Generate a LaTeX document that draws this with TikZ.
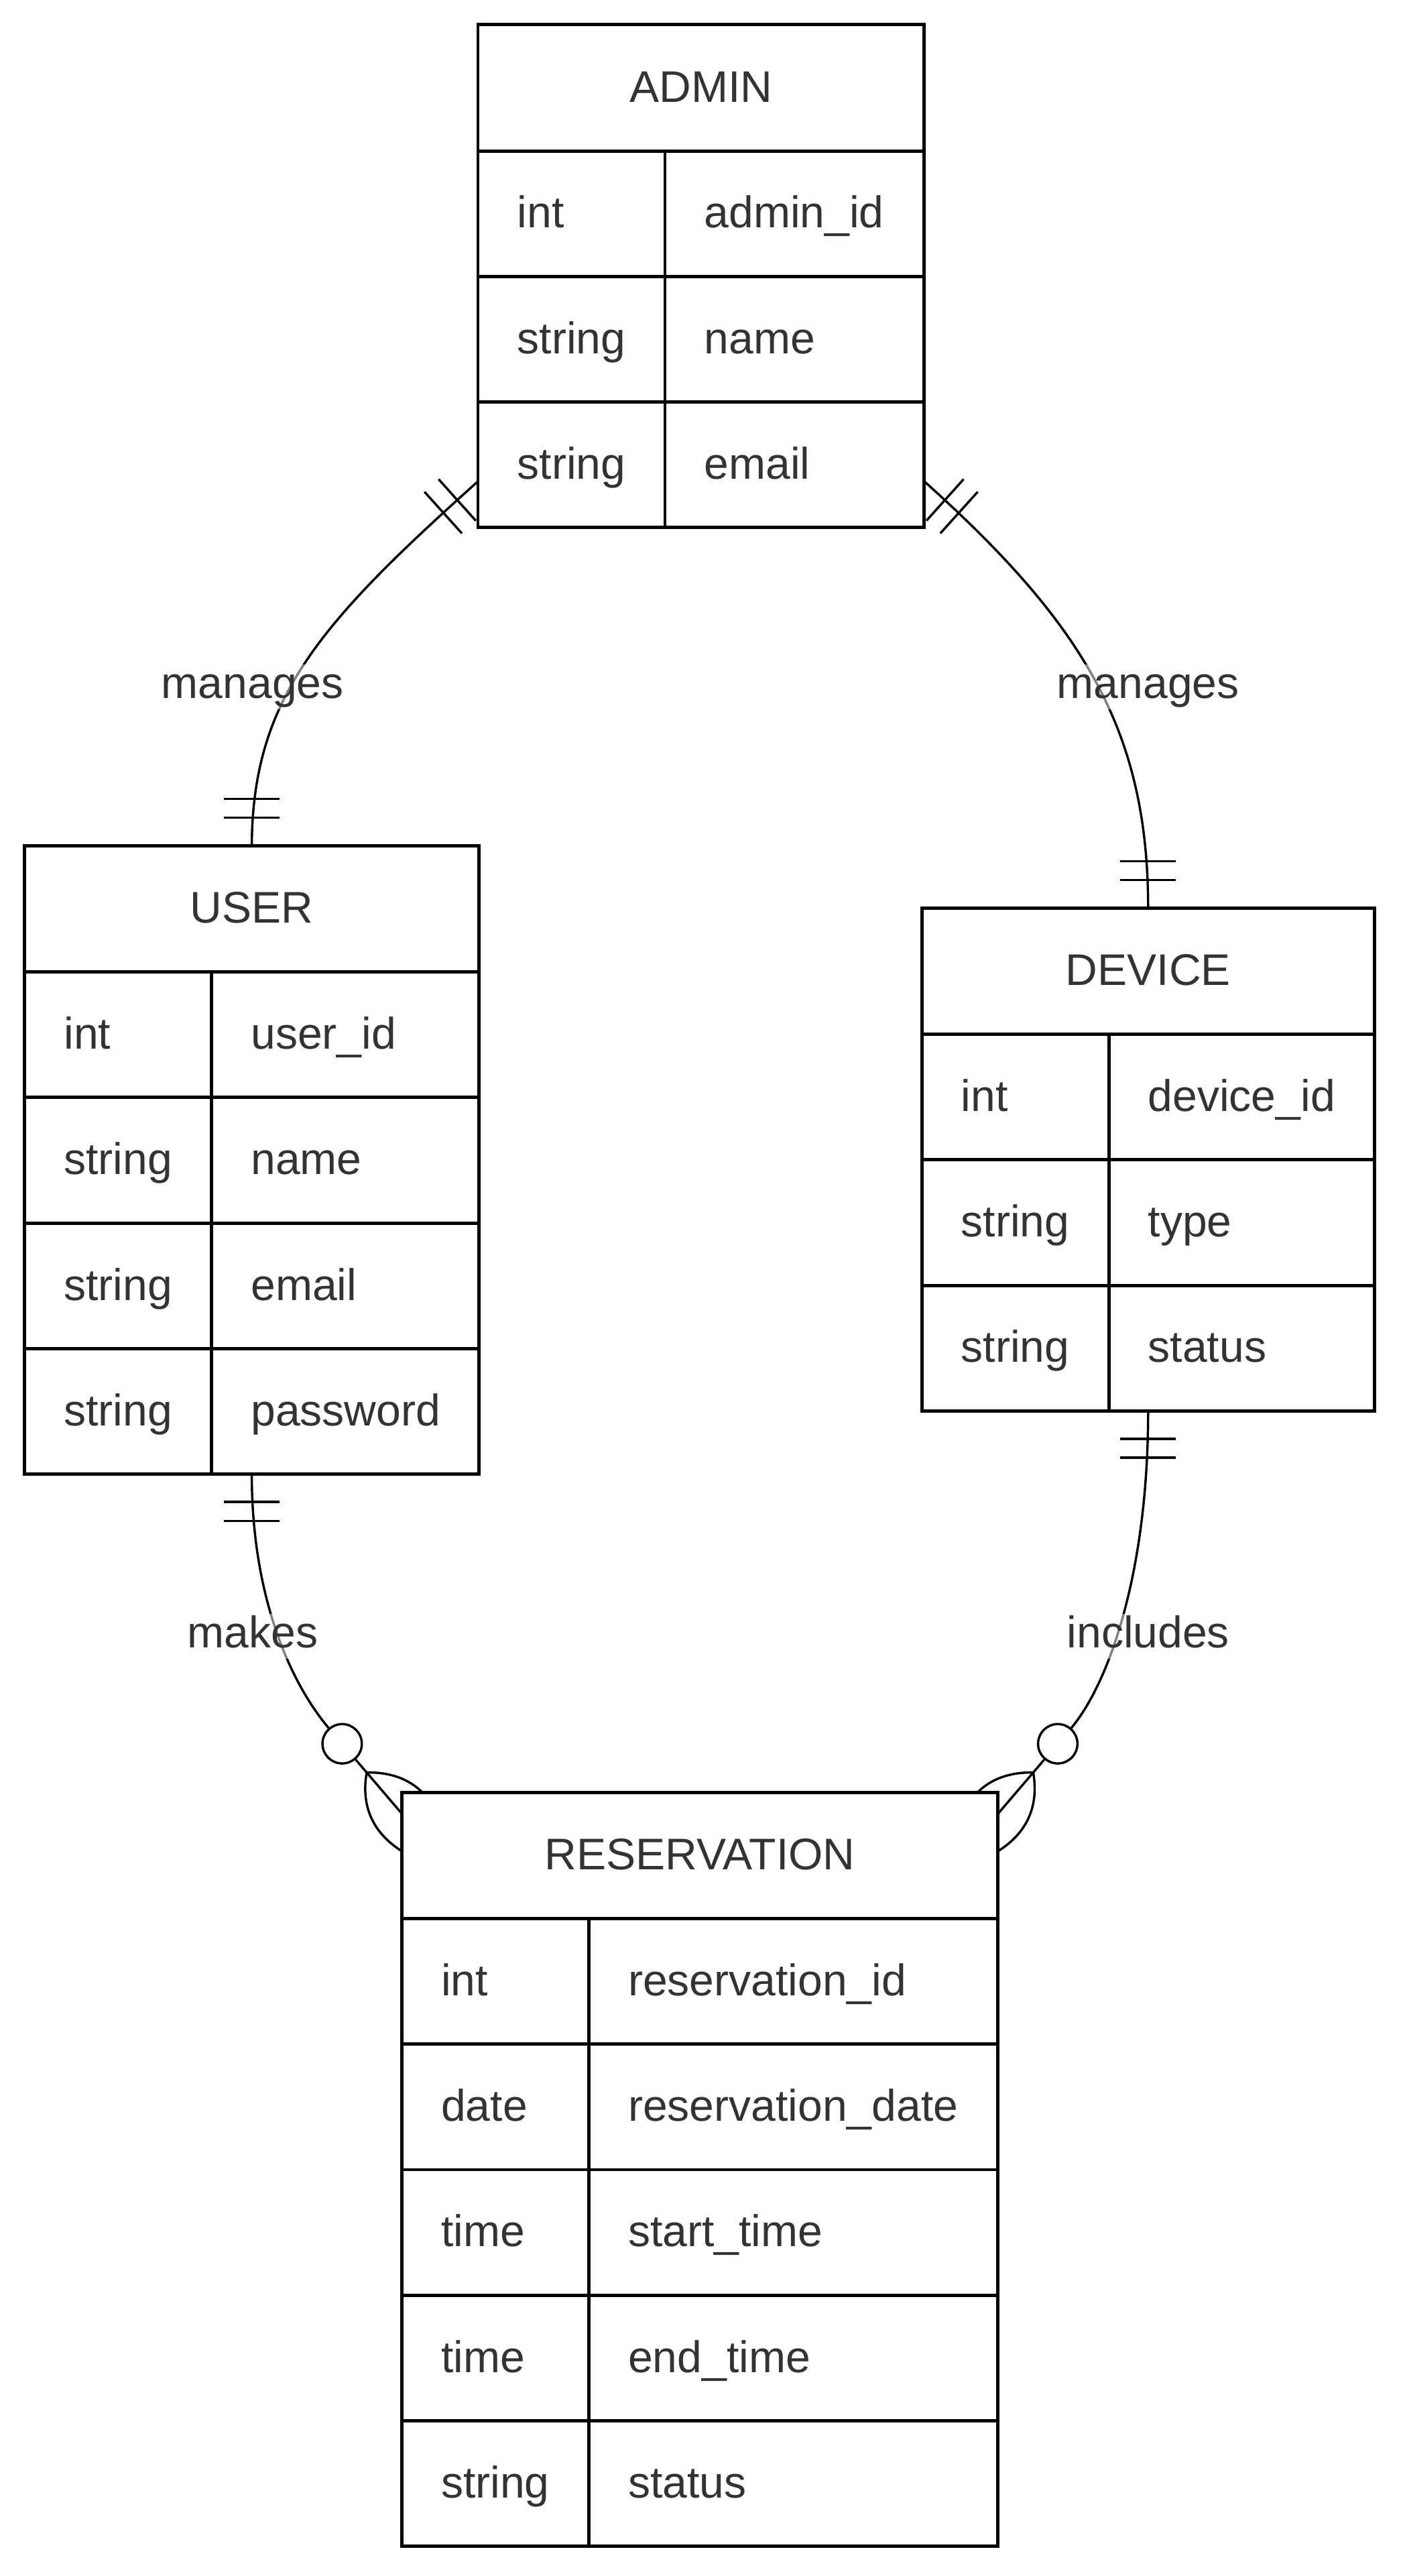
\documentclass[tikz,border=0pt]{standalone}
\usepackage{fontspec}
\setmainfont{Liberation Sans}
\usetikzlibrary{calc,fit,backgrounds}
\definecolor{ink}{HTML}{333333}

\tikzset{
  box/.style={draw, line width=2pt, fill=white, anchor=north west, outer sep=0pt,
    inner ysep=0pt, text height=17.4pt, text depth=0pt, text=ink},
  headbox/.style={box, minimum height=77pt, inner xsep=0pt},
  rowbox/.style={box, minimum height=76.5pt, inner xsep=24pt, align=left,
    execute at begin node={\hyphenpenalty=10000\relax}},
  whole/.style={inner sep=0pt, outer sep=0pt},
  rel/.style={line width=1.4pt, black},
  rellabel/.style={anchor=base, fill=white, fill opacity=0.5, text opacity=1, text=ink,
    inner sep=1pt, text height=19.6pt, text depth=5.6pt},
  zeroring/.style={circle, draw, fill=white, line width=1.4pt, minimum size=24pt, inner sep=0pt},
}

\begin{document}
\begin{tikzpicture}[x=1pt, y=-1pt, font=\fontsize{27}{32}\selectfont]
\useasboundingbox (0,0) rectangle (855,1570.2);

% ADMIN
\draw (291.4,15) node[headbox, minimum width=272.1pt] (adminhead) {ADMIN};
\draw (291.4,92) node[rowbox, text width=66pt] (admint1) {int};
\draw (405.4,92) node[rowbox, text width=110.1pt] (adminv1) {admin\_id};
\draw (291.4,168.5) node[rowbox, text width=66pt] (admint2) {string};
\draw (405.4,168.5) node[rowbox, text width=110.1pt] (adminv2) {name};
\draw (291.4,245) node[rowbox, text width=66pt] (admint3) {string};
\draw (405.4,245) node[rowbox, text width=110.1pt] (adminv3) {email};
\node[whole, fit=(adminhead)(adminv3)] (admin) {};

% USER
\draw (15,515.5) node[headbox, minimum width=277pt] (userhead) {USER};
\draw (15,592.5) node[rowbox, text width=66pt] (usert1) {int};
\draw (129,592.5) node[rowbox, text width=115pt] (userv1) {user\_id};
\draw (15,669) node[rowbox, text width=66pt] (usert2) {string};
\draw (129,669) node[rowbox, text width=115pt] (userv2) {name};
\draw (15,745.5) node[rowbox, text width=66pt] (usert3) {string};
\draw (129,745.5) node[rowbox, text width=115pt] (userv3) {email};
\draw (15,822) node[rowbox, text width=66pt] (usert4) {string};
\draw (129,822) node[rowbox, text width=115pt] (userv4) {password};
\node[whole, fit=(userhead)(userv4)] (user) {};

% DEVICE
\draw (562,553.5) node[headbox, minimum width=276pt] (devicehead) {DEVICE};
\draw (562,630.5) node[rowbox, text width=66pt] (devicet1) {int};
\draw (676,630.5) node[rowbox, text width=114pt] (devicev1) {device\_id};
\draw (562,707) node[rowbox, text width=66pt] (devicet2) {string};
\draw (676,707) node[rowbox, text width=114pt] (devicev2) {type};
\draw (562,783.5) node[rowbox, text width=66pt] (devicet3) {string};
\draw (676,783.5) node[rowbox, text width=114pt] (devicev3) {status};
\node[whole, fit=(devicehead)(devicev3)] (device) {};

% RESERVATION
\draw (245,1092.5) node[headbox, minimum width=363.5pt] (reshead) {RESERVATION};
\draw (245,1169.5) node[rowbox, text width=66pt] (rest1) {int};
\draw (359,1169.5) node[rowbox, text width=201.5pt] (resv1) {reservation\_id};
\draw (245,1246) node[rowbox, text width=66pt] (rest2) {date};
\draw (359,1246) node[rowbox, text width=201.5pt] (resv2) {reservation\_date};
\draw (245,1322.5) node[rowbox, text width=66pt] (rest3) {time};
\draw (359,1322.5) node[rowbox, text width=201.5pt] (resv3) {start\_time};
\draw (245,1399) node[rowbox, text width=66pt] (rest4) {time};
\draw (359,1399) node[rowbox, text width=201.5pt] (resv4) {end\_time};
\draw (245,1475.5) node[rowbox, text width=66pt] (rest5) {string};
\draw (359,1475.5) node[rowbox, text width=201.5pt] (resv5) {status};
\node[whole, fit=(reshead)(resv5)] (reservation) {};

% relationships, under the boxes
\begin{scope}[on background layer]
\fill[white] (0,0) rectangle (855,1570.2);

% admin manages user
\draw[rel] ($(admin.south west)+(0,-28.1)$) .. controls +(-96.4,86.6) and +(0.5,-90) .. (user.north);
\begin{scope}[shift={($(admin.south west)+(0,-28.1)$)}]
\draw[rel] (-24,-1.3) -- (-1.3,24);
\draw[rel] (-32.6,6.4) -- (-9.8,31.7);
\end{scope}
\begin{scope}[shift={(user.north)}]
\draw[rel] (-17,-17) -- (17,-17);
\draw[rel] (-17,-28.5) -- (17,-28.5);
\end{scope}

% admin manages device
\draw[rel] ($(admin.south east)+(0,-28.1)$) .. controls +(96.5,86.6) and +(0,-108.5) .. (device.north);
\begin{scope}[shift={($(admin.south east)+(0,-28.1)$)}, xscale=-1]
\draw[rel] (-24,-1.3) -- (-1.3,24);
\draw[rel] (-32.6,6.4) -- (-9.8,31.7);
\end{scope}
\begin{scope}[shift={(device.north)}]
\draw[rel] (-17,-17) -- (17,-17);
\draw[rel] (-17,-28.5) -- (17,-28.5);
\end{scope}

% user makes reservation
\coordinate (mkR) at ($(reservation.north west)+(0,13)$);
\coordinate (mkQ) at ($(mkR)+(-44.2,-51.7)$);
\draw[rel] (user.south) .. controls +(0,76.5) and +(-22.75,-26.6) .. (mkQ) -- (mkR);
\begin{scope}[shift={(user.south)}]
\draw[rel] (-17,17) -- (17,17);
\draw[rel] (-17,28.5) -- (17,28.5);
\end{scope}
\begin{scope}[shift={($(mkR)+(-21.45,-25.1)$)}]
\draw[rel] (0,0) .. controls (20.8,-0.3) and (35.3,8.4) .. (43.4,26.1);
\draw[rel] (0,0) .. controls (-3.5,20.5) and (3.6,36.5) .. (21.1,47.75);
\end{scope}
\node[zeroring] (mkring) at ($(mkR)+(-36.4,-42.6)$) {};

% device included in reservation
\coordinate (inR) at ($(reservation.north east)+(0,13)$);
\coordinate (inQ) at ($(inR)+(44.2,-51.7)$);
\draw[rel] (device.south) .. controls +(0,100) and +(22.75,-26.6) .. (inQ) -- (inR);
\begin{scope}[shift={(device.south)}]
\draw[rel] (-17,17) -- (17,17);
\draw[rel] (-17,28.5) -- (17,28.5);
\end{scope}
\begin{scope}[shift={($(inR)+(21.45,-25.1)$)}, xscale=-1]
\draw[rel] (0,0) .. controls (20.8,-0.3) and (35.3,8.4) .. (43.4,26.1);
\draw[rel] (0,0) .. controls (-3.5,20.5) and (3.6,36.5) .. (21.1,47.75);
\end{scope}
\node[zeroring] (inring) at ($(inR)+(36.4,-42.6)$) {};
\end{scope}

% labels
\node[rellabel] (lblmanagesu) at (154,425.7) {manages};
\node[rellabel] (lblmanagesd) at (700,425.7) {manages};
\node[rellabel] (lblmakes) at (154,1004.5) {makes};
\node[rellabel] (lblincludes) at (700,1004.5) {includes};
\end{tikzpicture}
\end{document}
